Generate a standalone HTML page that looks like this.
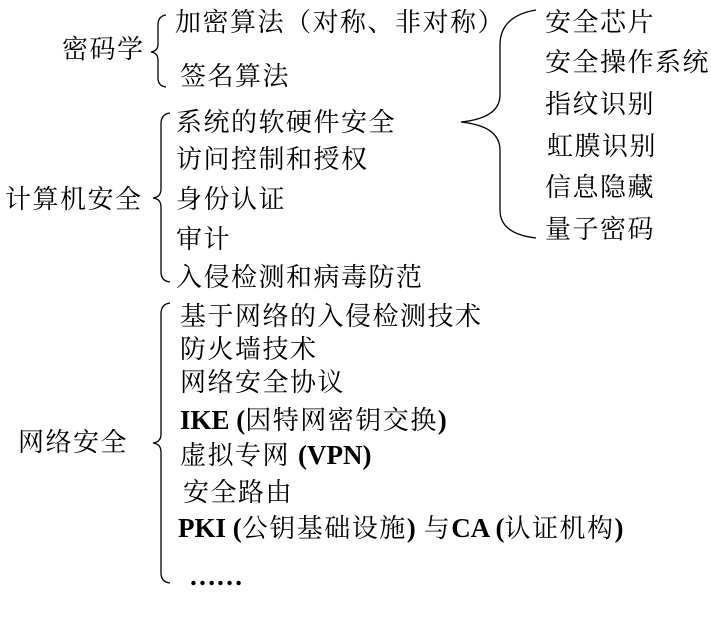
<!DOCTYPE html>
<html><head><meta charset="utf-8"><style>
html,body{margin:0;padding:0;background:#fff;}
body{width:711px;height:618px;position:relative;overflow:hidden;font-family:"Liberation Serif","Noto Serif CJK SC",serif;color:#000;}
.t{position:absolute;font-size:26px;line-height:28px;white-space:nowrap;letter-spacing:1.5px;}
b{font-weight:bold;letter-spacing:0;font-size:27px;}
svg{position:absolute;left:0;top:0;}
</style></head><body>
<svg width="711" height="618" fill="none" stroke="#000" stroke-width="1.3">
<path d="M166,15 Q158,16 158,25 L158,44 Q158,51 151,52 Q158,53 158,60 L158,78 Q158,86 166,87"/>
<path d="M170,113 Q161,114 161,124 L161,189 Q161,197 153,198 Q161,199 161,207 L161,272 Q161,281 170,282"/>
<path d="M170,303 Q161,304 161,314 L161,434 Q161,442 153,443 Q161,444 161,452 L161,573 Q161,582 170,583"/>
<path d="M536,10 Q500,16 500,45 L500,95 Q500,118 461,122 Q500,126 500,150 L500,210 Q500,234 536,238"/>
</svg>
<div class="t" style="left:62px;top:36px">密码学</div>
<div class="t" style="left:175px;top:9px">加密算法（对称、非对称）</div>
<div class="t" style="left:180px;top:63px">签名算法</div>
<div class="t" style="left:545px;top:9px">安全芯片</div>
<div class="t" style="left:545px;top:49px">安全操作系统</div>
<div class="t" style="left:545px;top:91px">指纹识别</div>
<div class="t" style="left:547px;top:133px">虹膜识别</div>
<div class="t" style="left:545px;top:174px">信息隐藏</div>
<div class="t" style="left:545px;top:216px">量子密码</div>
<div class="t" style="left:5px;top:186px">计算机安全</div>
<div class="t" style="left:176px;top:109px">系统的软硬件安全</div>
<div class="t" style="left:176px;top:146px">访问控制和授权</div>
<div class="t" style="left:176px;top:186px">身份认证</div>
<div class="t" style="left:176px;top:226px">审计</div>
<div class="t" style="left:176px;top:264px">入侵检测和病毒防范</div>
<div class="t" style="left:18px;top:429px">网络安全</div>
<div class="t" style="left:180px;top:303px">基于网络的入侵检测技术</div>
<div class="t" style="left:180px;top:336px">防火墙技术</div>
<div class="t" style="left:180px;top:369px">网络安全协议</div>
<div class="t" style="left:180px;top:406px"><b>IKE (</b>因特网密钥交换<b>)</b></div>
<div class="t" style="left:180px;top:441px">虚拟专网 <b>(VPN)</b></div>
<div class="t" style="left:183px;top:479px">安全路由</div>
<div class="t" style="left:178px;top:514px"><b>PKI (</b>公钥基础设施<b>)</b> 与<b>CA (</b>认证机构<b>)</b></div>
<div class="t" style="left:189px;top:562px"><b>……</b></div>
</body></html>
